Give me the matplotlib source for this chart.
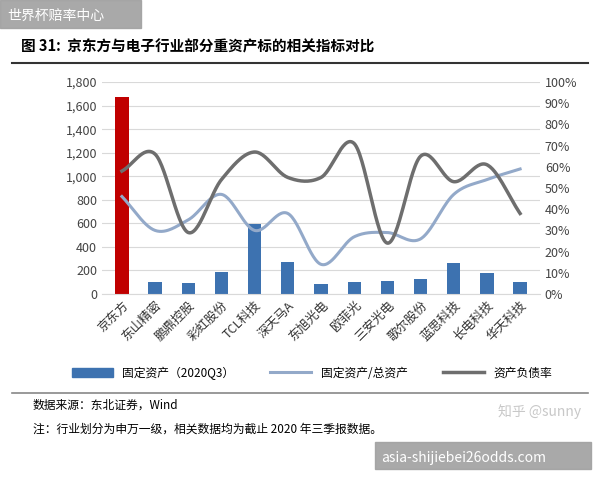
import matplotlib
matplotlib.use("Agg")
import matplotlib.pyplot as plt
import numpy as np
from matplotlib.lines import Line2D
from matplotlib.patches import Patch, Rectangle

plt.rcParams['font.family'] = ['Noto Sans CJK SC', 'DejaVu Sans']

companies = ["京东方", "东山精密", "鹏鼎控股", "彩虹股份", "TCL科技", "深天马A", "东旭光电",
             "欧菲光", "三安光电", "蓝思科技", "歌尔股份", "长电科技", "华天科技"]
companies = ["京东方", "东山精密", "鹏鼎控股", "彩虹股份", "TCL科技", "深天马A", "东旭光电",
             "欧菲光", "三安光电", "歌尔股份", "蓝思科技", "长电科技", "华天科技"]
fixed_assets = [1670, 105, 95, 190, 595, 270, 85, 105, 110, 130, 260, 175, 100]
fixed_ratio = [46, 30, 35, 47, 30, 38, 14, 27, 29, 26, 47, 54, 59]
debt_ratio = [58, 66, 29, 54, 67, 55, 55, 71, 24, 65, 53, 61, 38]

def smooth(y, n=30):
    y = np.asarray(y, float)
    p = np.concatenate([[2*y[0]-y[1]], y, [2*y[-1]-y[-2]]])
    xs, ys = [], []
    for i in range(len(y)-1):
        p0, p1, p2, p3 = p[i], p[i+1], p[i+2], p[i+3]
        t = np.linspace(0, 1, n, endpoint=False)
        ys.append(0.5*((2*p1) + (-p0+p2)*t + (2*p0-5*p1+4*p2-p3)*t**2 + (-p0+3*p1-3*p2+p3)*t**3))
        xs.append(i + t)
    xs.append([len(y)-1]); ys.append([y[-1]])
    return np.concatenate(xs), np.concatenate(ys)

fig = plt.figure(figsize=(6, 4.8), dpi=100)
ax = fig.add_axes([0.17, 0.3875, 0.73, 0.4415])
x = np.arange(len(companies))
colors = ['#c00000'] + ['#3d72b0'] * (len(companies)-1)
ax.bar(x, fixed_assets, width=0.4, color=colors, zorder=2)
ax.set_ylim(0, 1800)
ax.set_xlim(-0.6, len(companies)-0.4)
ax.set_yticks(range(0, 1801, 200))
ax.set_yticklabels([f"{v:,}" for v in range(0, 1801, 200)], fontsize=9, color='#444')
ax.grid(axis='y', color='#d9d9d9', lw=0.8, zorder=0)
for s in ax.spines.values():
    s.set_visible(False)
ax.spines['bottom'].set_visible(True); ax.spines['bottom'].set_color('#d9d9d9')
ax.tick_params(length=0)
ax.set_xticks(x)
ax.set_xticklabels(companies, rotation=45, ha='right', rotation_mode='anchor', fontsize=9, color='#333')

ax2 = ax.twinx()
ax2.set_ylim(0, 100)
ax2.set_yticks(range(0, 101, 10))
ax2.set_yticklabels([f"{v}%" for v in range(0, 101, 10)], fontsize=9, color='#444')
for s in ax2.spines.values():
    s.set_visible(False)
ax2.tick_params(length=0)
sx, sy = smooth(fixed_ratio)
ax2.plot(sx, sy, color='#93a9c9', lw=2.2)
sx, sy = smooth(debt_ratio)
ax2.plot(sx, sy, color='#6e6e6e', lw=2.5)

handles = [Patch(color='#3d72b0'), Line2D([], [], color='#93a9c9', lw=2.2), Line2D([], [], color='#6e6e6e', lw=2.5)]
fig.legend(handles, ["固定资产（2020Q3）", "固定资产/总资产", "资产负债率"], loc='center',
           bbox_to_anchor=(0.52, 0.223), ncol=3, frameon=False, fontsize=8.5, handlelength=3.5,
           columnspacing=3)

fig.text(0.035, 0.893, "图 31:  京东方与电子行业部分重资产标的相关指标对比", fontsize=10.5, fontweight='bold')
fig.add_artist(Line2D([0.02, 0.98], [0.868, 0.868], color='#333', lw=1.5))
fig.add_artist(Line2D([0.02, 0.98], [0.182, 0.182], color='#888', lw=1.2))
fig.text(0.055, 0.148, "数据来源：东北证券，Wind", fontsize=8.5)
fig.text(0.055, 0.098, "注：行业划分为申万一级，相关数据均为截止 2020 年三季报数据。", fontsize=8.5)
fig.text(0.83, 0.133, "知乎 @sunny", fontsize=10, color='#c8c8c8')

fig.add_artist(Rectangle((0, 0.942), 0.235, 0.058, transform=fig.transFigure, color='#a0a0a0', alpha=0.9))
fig.text(0.012, 0.958, "世界杯赔率中心", fontsize=10, color='white')
fig.add_artist(Rectangle((0.625, 0.022), 0.36, 0.058, transform=fig.transFigure, color='#a0a0a0', alpha=0.9))
fig.text(0.635, 0.038, "asia-shijiebei26odds.com", fontsize=10, color='white')

fig.savefig("out.png", dpi=100, facecolor='white')
